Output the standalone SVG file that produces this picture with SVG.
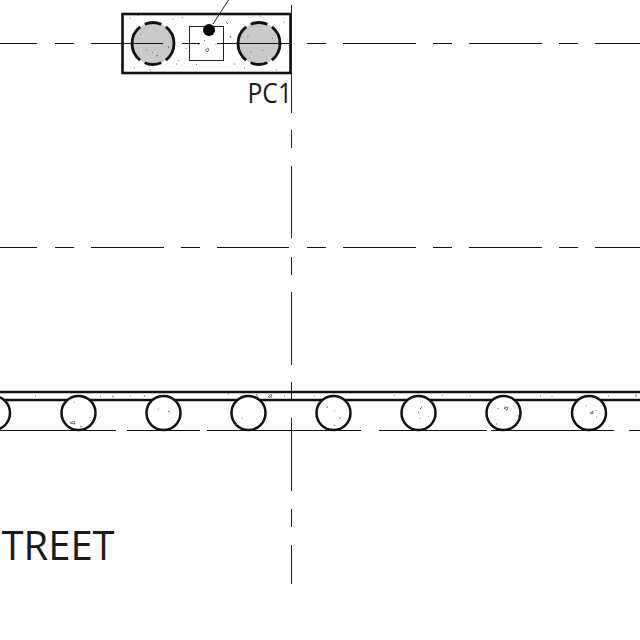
<svg xmlns="http://www.w3.org/2000/svg" width="640" height="640" viewBox="0 0 640 640">
<style>
.c{fill:none;stroke:#222;stroke-width:1}
.t{fill:none;stroke:#111;stroke-width:1.1}
.b{fill:none;stroke:#111;stroke-width:2.6}
.p{fill:#fff;stroke:#111;stroke-width:2.5}
.col{fill:#c9c9c9;stroke:#111;stroke-width:2.8;stroke-dasharray:19 5.3 17 5.3 38 5.3 17 5.3 19 0}
.s{fill:none;stroke:#666;stroke-width:.9}
text{font-family:"Open Sans","Liberation Sans",sans-serif;fill:#1a1a1a}
</style>
<rect width="640" height="640" fill="#fff"/>
<g id="pier">
<rect x="122.500" y="14" width="168" height="59" fill="#fff" class="b"/>
<circle class="col" cx="153" cy="43.500" r="21"/>
<circle class="col" cx="259" cy="43.500" r="21"/>
<rect x="189.500" y="26.500" width="34" height="34" class="c"/>
<circle cx="209" cy="30" r="6" fill="#000"/>
<path class="c" d="M213 24 228.500 0"/>
<path class="s" d="M130 18h1M138 15v1M172 19h1M182 17l1 1M178 60l1 1M134 68h1M150 70h1M176 64h1M196 64l1 1M226 22l2 2M230 36l1 2M240 30l1 1M234 64h1M244 68h1M260 16h1M276 70h1M284 22v1M168 46l1 2M186 48v1M140 34l1 1M152 52l1 1M156 56l2-1M146 50h1M262 50l1 1M250 52h1M248 36v1M272 38l1 1M208 48l-3 2 2 2 2-2zM198 44l1 1M216 44v1M204 40l1 1"/>
</g>
<g id="axes">
<path class="c" d="M291.500 5V113M291.500 130V148M291.500 166V238M291.500 257V275M291.500 292V365M291.500 382V400M291.500 418V491M291.500 509V527M291.500 545V584"/>
<path class="t" d="M0 43.500H37M55 43.500H74M91 43.500H163M182 43.500H200M217 43.500H289M307 43.500H326M343 43.500H416M433 43.500H452M469 43.500H542M559 43.500H578M595 43.500H640"/>
<path class="t" d="M0 247.500H37M55 247.500H74M91 247.500H164M181 247.500H200M217 247.500H289M307 247.500H326M343 247.500H416M433 247.500H452M469 247.500H542M559 247.500H578M595 247.500H640"/>
</g>
<g id="wall">
<path class="t" d="M0 430.500H116M127 430.500H200M207 430.500H361M379 430.500H487M491 430.500H614M629 430.500H640"/>
<path class="b" d="M0 392H640M0 400H640"/>
<circle class="p" cx="-7" cy="413" r="17"/>
<circle class="p" cx="78.500" cy="413" r="17"/>
<circle class="p" cx="163.500" cy="413" r="17"/>
<circle class="p" cx="248.500" cy="413" r="17"/>
<circle class="p" cx="333.500" cy="413" r="17"/>
<circle class="p" cx="418.500" cy="413" r="17"/>
<circle class="p" cx="503.500" cy="413" r="17"/>
<circle class="p" cx="589" cy="413" r="17"/>
<path class="s" d="M35 396h1M100 396l1 1M112 396l2 1M130 396h1M144 395l1 2M162 395v1M228 394h1M256 394l2 3M268 397l3-3 1 3zM284 396h1M314 396h1M394 396l1-1M442 395l1 1M470 396h1M540 396h1M552 396v1M608 396h1M636 394v3M70 423l4-2 1 3zM80 426l2 1M74 402h1M90 417v1M158 409h1M168 411l2 1M242 418h1M236 424l1 1M326 407h2M334 411h1M340 417v2M334 426l1-1M420 409l2-2M418 412l1 1M420 418v1M428 417h1M504 408l4-1-1 3zM498 408v1M518 415l1 3M496 424h1M590 413l3-2v3zM586 406h1M596 410v1M596 417h1"/>
</g>
<g id="labels">
<text x="247.500" y="103" font-size="27" textLength="44.500" lengthAdjust="spacingAndGlyphs">PC1</text>
<text x="-20.500" y="560" font-size="40">STREET</text>
</g>
</svg>
